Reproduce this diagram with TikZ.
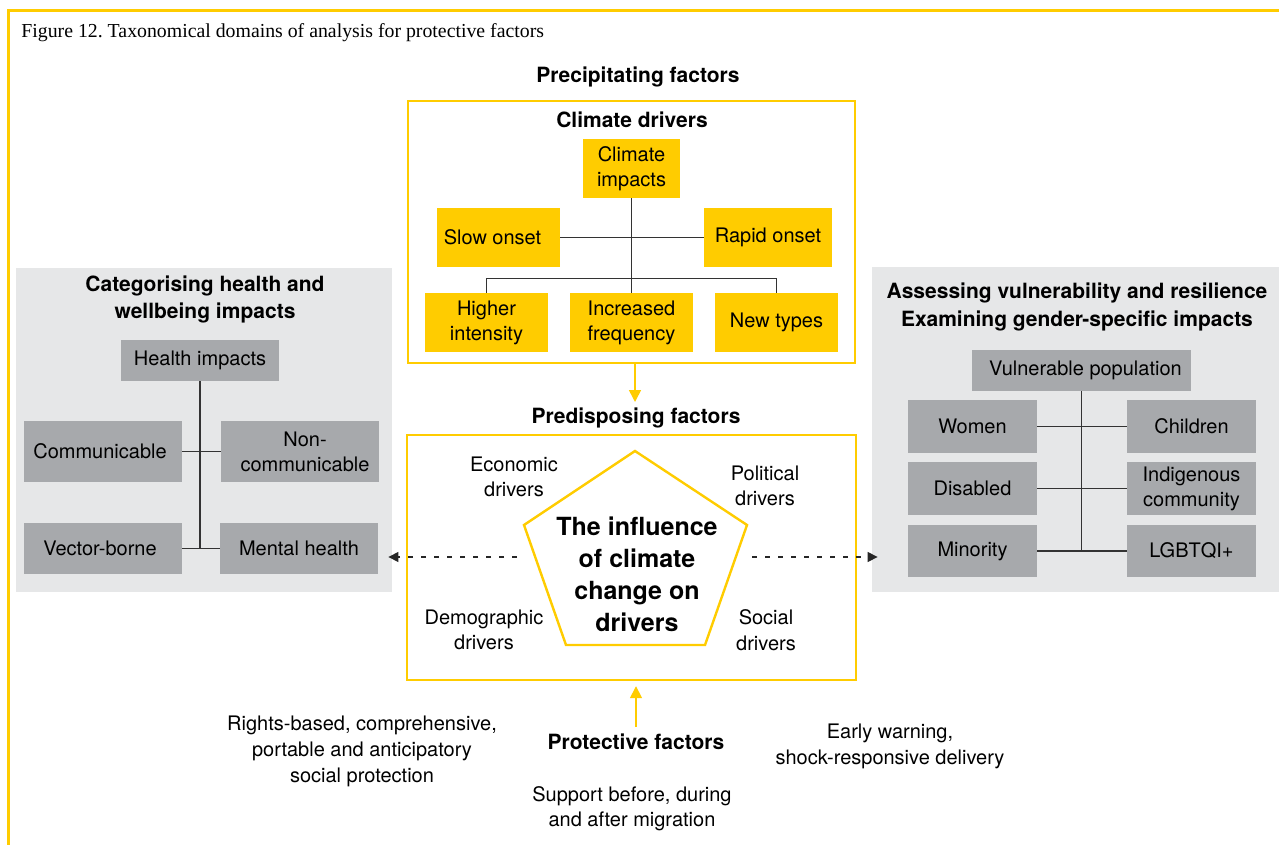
\documentclass[tikz,border=0pt]{standalone}
\usepackage{fontspec}
\setmainfont{TeX Gyre Heros}
\newfontfamily\captionserif{Liberation Serif}
\usetikzlibrary{arrows.meta}
\definecolor{yel}{HTML}{FFCC00}
\definecolor{boxgrey}{HTML}{A7A9AC}
\definecolor{panelgrey}{HTML}{E6E7E8}
\definecolor{linkgrey}{HTML}{333333}
\tikzset{
  ybox/.style={fill=yel, inner sep=0pt, align=center, minimum width=61.5pt, minimum height=29.5pt, font=\fontsize{10}{12.5}\selectfont},
  gbox/.style={fill=boxgrey, inner sep=0pt, align=center, minimum width=79pt, font=\fontsize{10}{12.5}\selectfont},
  panel/.style={fill=panelgrey, inner sep=0pt},
  frame/.style={draw=yel, line width=1.2pt, inner sep=0pt},
  link/.style={draw=linkgrey, line width=0.8pt},
  head/.style={font=\bfseries\fontsize{10.5}{13.5}\selectfont, align=center},
  txt/.style={font=\fontsize{10}{12.8}\selectfont, align=center},
  yarrow/.style={yel, line width=0.8pt, -{Triangle[length=6pt,width=6pt]}},
  darrow/.style={black!85, line width=0.6pt, dash pattern=on 2.5pt off 4pt, -{Triangle[length=5pt,width=5pt]}}
}
\begin{document}
\frenchspacing
\begin{tikzpicture}[x=0.5pt,y=-0.5pt]
  \useasboundingbox (0,0) rectangle (1279,845);
  % outer frame and caption
  \draw[yel, line width=1.5pt] (8,845) -- (8,11) -- (1279,11);
  \node[anchor=west, inner sep=0pt, font=\captionserif\fontsize{9.9}{12}\selectfont] (caption) at (21,33) {Figure 12. Taxonomical domains of analysis for protective factors};

  % side panels
  \node[panel, minimum width=188pt, minimum height=162pt] (healthpanel) at (204,430) {};
  \node[panel, minimum width=203.5pt, minimum height=162.5pt] (vulnpanel) at (1075.5,429.5) {};

  % precipitating factors
  \node[head] (precip) at (638,77) {Precipitating factors};
  \node[frame, minimum width=223.5pt, minimum height=131pt] (climbox) at (631.5,232) {};
  \node[head] (climdrv) at (632,120) {Climate drivers};
  \node[ybox, minimum width=48.5pt] (impact) at (631.5,168.5) {Climate\\impacts};
  \node[ybox] (slow) at (498.5,237.5) {Slow onset\hspace*{6pt}};
  \node[ybox, minimum width=64pt] (rapid) at (768,237.5) {Rapid onset};
  \node[ybox] (higher) at (486.5,322.5) {Higher\\intensity};
  \node[ybox] (freq) at (631.5,322.5) {Increased\\frequency};
  \node[ybox] (newtype) at (776.5,322.5) {New types};
  \draw[link] (impact.south) -- (impact.south |- freq.north);
  \draw[link] (slow) -- (rapid);
  \draw[link] (higher.north) -- ++(0,-14) -| (newtype.north);

  \coordinate (predtip) at (635,402);
  \draw[yarrow] (climbox.south -| predtip) -- (predtip);

  % predisposing factors
  \node[head] (predisp) at (636,418) {Predisposing factors};
  \node[frame, minimum width=224.5pt, minimum height=122.5pt] (drvbox) at (631.5,557.5) {};
  \draw[yel, line width=1.2pt] (635,451) -- (747,525) -- (705,645) -- (566,645) -- (524,525) -- cycle;
  \node[font=\bfseries\fontsize{12.5}{16}\selectfont, align=center] (influence) at (637,574) {The influence\\of climate\\change on\\drivers};
  \node[txt] (econ) at (514,477) {Economic\\drivers};
  \node[txt] (polit) at (765,486) {Political\\drivers};
  \node[txt] (demog) at (484,630) {Demographic\\drivers};
  \node[txt] (social) at (766,630) {Social\\drivers};

  % health panel
  \node[head] (healthtitle) at (205,299.5) {Categorising health and\\wellbeing impacts};
  \node[gbox, minimum height=20.5pt] (himp) at (200,360.5) {Health impacts};
  \node[gbox, minimum height=30.5pt] (comm) at (103,451.5) {Communicable\hspace*{3pt}};
  \node[gbox, minimum height=30.5pt] (noncomm) at (300,451.5) {\hspace*{5pt}Non-\\\hspace*{5pt}communicable};
  \node[gbox, minimum height=25.5pt] (vector) at (103,548.5) {Vector-borne\hspace*{3pt}};
  \node[gbox, minimum height=25.5pt] (mental) at (299,548.5) {Mental health};
  \draw[link] (himp.south) -- (himp.south |- mental.west);
  \draw[link] (comm) -- (noncomm);
  \draw[link] (vector) -- (mental);

  % vulnerability panel
  \node[head, font=\bfseries\fontsize{10.5}{14}\selectfont] (vulntitle) at (1077,307) {Assessing vulnerability and resilience\\Examining gender-specific impacts};
  \node[gbox, minimum width=109.5pt, minimum height=20.5pt] (vulnpop) at (1081.5,370.5) {\hspace*{4pt}Vulnerable population};
  \node[gbox, minimum width=64.5pt, minimum height=26.5pt] (women) at (972.5,426.5) {Women};
  \node[gbox, minimum width=64.5pt, minimum height=26.5pt] (children) at (1191.5,426.5) {Children};
  \node[gbox, minimum width=64.5pt, minimum height=26.5pt] (disabled) at (972.5,488.5) {Disabled};
  \node[gbox, minimum width=64.5pt, minimum height=26.5pt] (indigenous) at (1191.5,488.5) {Indigenous\\community};
  \node[gbox, minimum width=64.5pt, minimum height=26pt] (minority) at (972.5,551) {Minority};
  \node[gbox, minimum width=64.5pt, minimum height=26pt] (lgbtqi) at (1191.5,551) {LGBTQI+};
  \draw[link] (vulnpop.south) -- (vulnpop.south |- minority.east);
  \draw[link] (women) -- (children);
  \draw[link] (disabled) -- (indigenous);
  \draw[link] (minority) -- (lgbtqi);

  % dashed links to panels
  \coordinate (dashL) at (517,557);
  \coordinate (dashR) at (752,557);
  \draw[darrow, shorten >=-2pt] (dashL) -- (healthpanel.east |- dashL);
  \draw[darrow, shorten >=-3pt] (dashR) -- (vulnpanel.west |- dashR);

  % protective factors
  \node[head] (protect) at (636,742) {Protective factors};
  \draw[yarrow, shorten >=2.5pt] (protect.north) -- (drvbox.south -| protect.north);
  \node[txt, font=\fontsize{10}{13}\selectfont] (rights) at (362,751) {Rights-based, comprehensive,\\portable and anticipatory\\social protection};
  \node[txt, font=\fontsize{10}{13}\selectfont] (early) at (890,746) {Early warning,\\shock-responsive delivery};
  \node[txt, font=\fontsize{10}{12.5}\selectfont] (support) at (632,808.5) {Support before, during\\and after migration};
\end{tikzpicture}
\end{document}
